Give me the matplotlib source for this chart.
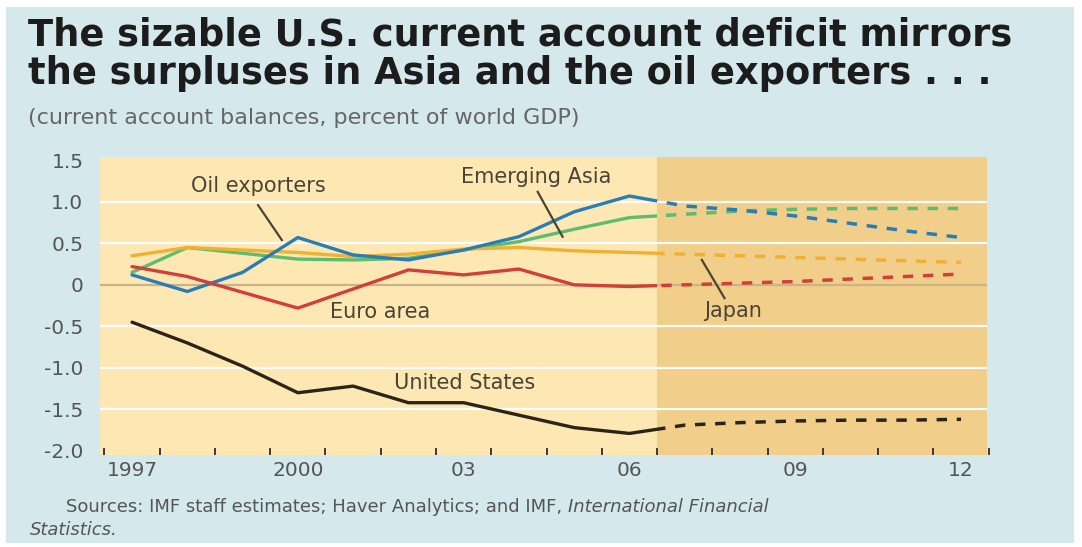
import matplotlib
matplotlib.use("Agg")
import matplotlib.pyplot as plt
from matplotlib.patches import Rectangle
import numpy as np

# ---- data: current account balances, percent of world GDP ----
years = [1997, 1998, 1999, 2000, 2001, 2002, 2003, 2004, 2005, 2006,
         2007, 2008, 2009, 2010, 2011, 2012]
united_states = [-0.45, -0.70, -0.98, -1.30, -1.22, -1.42, -1.42, -1.57, -1.72, -1.79,
                 -1.69, -1.66, -1.64, -1.63, -1.63, -1.62]
euro_area = [0.22, 0.10, -0.09, -0.28, -0.05, 0.18, 0.12, 0.19, 0.00, -0.02,
             0.00, 0.02, 0.04, 0.07, 0.10, 0.13]
japan = [0.35, 0.45, 0.42, 0.39, 0.34, 0.37, 0.43, 0.45, 0.41, 0.39,
         0.37, 0.35, 0.33, 0.31, 0.29, 0.27]
oil_exporters = [0.15, 0.45, 0.38, 0.31, 0.30, 0.32, 0.42, 0.52, 0.67, 0.81,
                 0.85, 0.89, 0.91, 0.92, 0.92, 0.92]
emerging_asia = [0.12, -0.08, 0.15, 0.57, 0.36, 0.30, 0.42, 0.58, 0.88, 1.07,
                 0.95, 0.90, 0.83, 0.74, 0.65, 0.57]
projection_start = 2006.5

y_ticks = [1.5, 1.0, 0.5, 0, -0.5, -1.0, -1.5, -2.0]
y_tick_labels = ["1.5", "1.0", "0.5", "0", "-0.5", "-1.0", "-1.5", "-2.0"]
x_label_years = [1997, 2000, 2003, 2006, 2009, 2012]
x_tick_labels = ["1997", "2000", "03", "06", "09", "12"]

title_lines = ["The sizable U.S. current account deficit mirrors",
               "the surpluses in Asia and the oil exporters . . ."]
subtitle = "(current account balances, percent of world GDP)"
source_plain = "Sources: IMF staff estimates; Haver Analytics; and IMF, "
source_italic = "International Financial"
source_line2 = "Statistics."

# ---- styling ----
W, H = 1082, 547
panel_color = "#d5e8ec"
hist_bg = "#fde8b4"
proj_bg = "#f1ce8a"
text_dark = "#4a4434"
tick_grey = "#555555"

fig = plt.figure(figsize=(W / 100, H / 100), dpi=100)
fig.patch.set_facecolor("white")
fig.patches.append(Rectangle((6 / W, 4 / H), 1068 / W, 536 / H,
                             transform=fig.transFigure, facecolor=panel_color,
                             edgecolor="none", zorder=-5))

ax = fig.add_axes([100 / W, 1 - 455 / H, 887 / W, 298 / H])
ax.set_zorder(2)
ax.set_xlim(1996.42, 2012.47)
ax.set_ylim(-2.05, 1.54)
ax.set_facecolor(hist_bg)
for s in ax.spines.values():
    s.set_visible(False)

# projection shading
ax.axvspan(projection_start, 2012.47, color=proj_bg, zorder=0, lw=0)

# white gridlines and tan zero line
for yv in y_ticks:
    if yv == 0:
        ax.axhline(0, color="#c9b487", lw=1.6, zorder=1)
    elif -2.0 < yv < 1.5:
        ax.axhline(yv, color="white", lw=1.6, zorder=1)

# series: solid for history, dashed for projections
series = [
    (oil_exporters, "#5cbd6e"),
    (japan, "#f0b132"),
    (emerging_asia, "#2a7db4"),
    (euro_area, "#d23f3b"),
    (united_states, "#2b2518"),
]
ymin, ymax = -2.05, 1.54
for vals, col in series:
    solid, = ax.plot(years, vals, color=col, lw=2.4, zorder=3,
                     solid_capstyle="round", solid_joinstyle="round")
    clip_left = Rectangle((1996.0, ymin), projection_start - 1996.0, ymax - ymin,
                          transform=ax.transData)
    solid.set_clip_path(clip_left)
    dashed, = ax.plot(years, vals, color=col, lw=2.5, zorder=3,
                      linestyle=(0, (3.0, 2.8)))
    clip_right = Rectangle((projection_start, ymin), 2013.0 - projection_start,
                           ymax - ymin, transform=ax.transData)
    dashed.set_clip_path(clip_right)

# axes ticks
ax.set_yticks(y_ticks)
ax.set_yticklabels(y_tick_labels)
ax.tick_params(axis="y", length=0, pad=12, labelsize=14.5, labelcolor=tick_grey)
ax.set_xticks(x_label_years)
ax.set_xticklabels(x_tick_labels)
ax.tick_params(axis="x", length=0, pad=4, labelsize=14.5, labelcolor=tick_grey)

# year-boundary tick marks at the bottom
bounds = np.arange(1996.5, 2013.0, 1.0)
for b in bounds:
    ax.plot([b, b], [-2.04, -1.98], color="#3a3a3a", lw=1.4, zorder=4,
            clip_on=False)

# series labels with leader lines
lab_kw = dict(fontsize=15, color=text_dark, ha="center", va="center", zorder=5)
ax.text(1999.28, 1.19, "Oil exporters", **lab_kw)
ax.text(2004.32, 1.30, "Emerging Asia", **lab_kw)
ax.text(2001.48, -0.33, "Euro area", **lab_kw)
ax.text(2007.87, -0.31, "Japan", **lab_kw)
ax.text(2003.02, -1.18, "United States", **lab_kw)

leader_kw = dict(color=text_dark, lw=1.6, zorder=5)
ax.plot([1999.28, 1999.71], [0.96, 0.54], **leader_kw)
ax.plot([2004.34, 2004.79], [1.12, 0.58], **leader_kw)
ax.plot([2007.31, 2007.72], [0.30, -0.16], **leader_kw)

# titles
for i, line in enumerate(title_lines):
    fig.text(28 / W, 1 - (45 + 39 * i) / H, line, fontsize=26.5,
             fontweight="bold", color="#1c1c1c", ha="left", va="baseline")
fig.text(28 / W, 1 - 124 / H, subtitle, fontsize=16, color="#666666",
         ha="left", va="baseline")

# source note
t1 = fig.text(66 / W, 1 - 512 / H, source_plain, fontsize=13, color="#555555",
              ha="left", va="baseline")
fig.canvas.draw()
bb = t1.get_window_extent()
fig.text(bb.x1 / W, 1 - 512 / H, source_italic, fontsize=13, color="#555555",
         style="italic", ha="left", va="baseline")
fig.text(30 / W, 1 - 535 / H, source_line2, fontsize=13, color="#555555",
         style="italic", ha="left", va="baseline")

fig.savefig("out.png", dpi=100, facecolor=fig.get_facecolor())
